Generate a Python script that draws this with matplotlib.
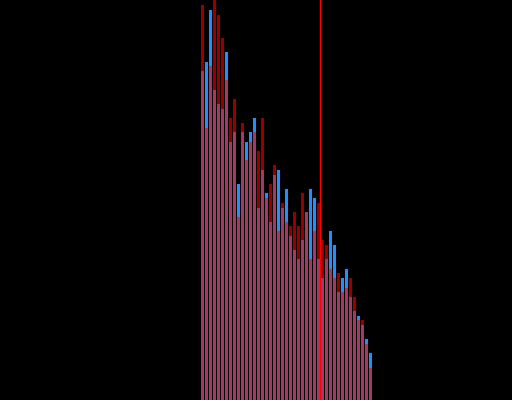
import matplotlib.pyplot as plt
import numpy as np

# bin index for each bar
bins = np.arange(43)

# bar heights (arbitrary units, y axis 0..400)
red_counts = [395, 272, 334, 400, 385, 362, 320, 282, 301, 183,
              277, 240, 258, 268, 249, 282, 202, 216, 235, 169,
              197, 178, 174, 188, 174, 207, 188, 141, 169, 197,
              160, 155, 131, 122, 127, 108, 112, 122, 103, 80,
              80, 56, 32]
blue_counts = [329, 338, 390, 310, 296, 291, 348, 258, 268, 216,
               268, 258, 268, 282, 192, 230, 207, 178, 225, 230,
               192, 211, 164, 150, 141, 160, 188, 211, 202, 141,
               122, 141, 169, 155, 108, 122, 131, 103, 89, 84,
               75, 61, 47]

# position of the marker line
threshold = 29.45

fig = plt.figure(figsize=(5.12, 4.0), dpi=100, facecolor='black')
ax = fig.add_axes([0, 0, 1, 1])
ax.set_facecolor('black')

# blue drawn first, red semi-transparent on top gives the mauve overlap
ax.bar(bins, blue_counts, width=0.75, color='#1e90ff', linewidth=0)
ax.bar(bins, red_counts, width=0.75, color='#ff0000', alpha=0.6, linewidth=0)
ax.axvline(threshold, color='#ff0000', linewidth=1.0)

ax.set_xlim(-50.625, 77.375)
ax.set_ylim(0, 400)
ax.axis('off')

fig.savefig('out.png', dpi=100, facecolor='black')
